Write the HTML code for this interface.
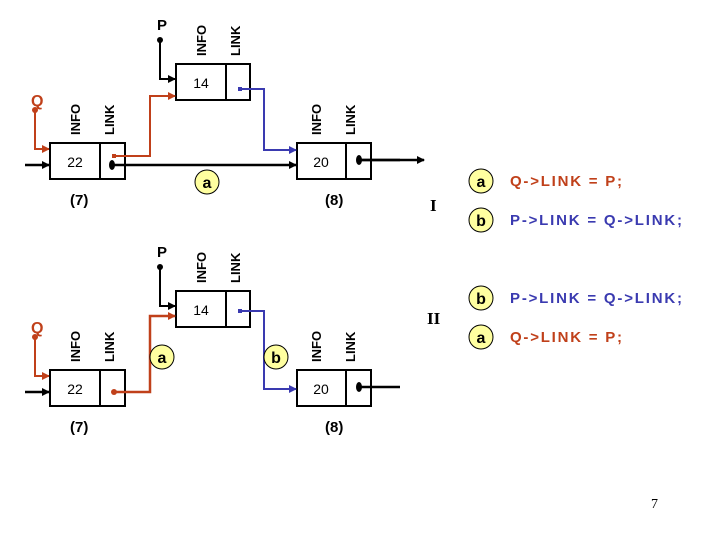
<!DOCTYPE html>
<html><head><style>body{margin:0;background:#fff}svg{display:block}</style></head><body>
<svg width="720" height="540" xmlns="http://www.w3.org/2000/svg" font-family="Liberation Sans, sans-serif">
<defs>
<marker id="ak" markerWidth="8" markerHeight="8" refX="7" refY="4" orient="auto" markerUnits="userSpaceOnUse"><path d="M0,0L8,4L0,8z" fill="#000"/></marker>
<marker id="ao" markerWidth="8" markerHeight="8" refX="7" refY="4" orient="auto" markerUnits="userSpaceOnUse"><path d="M0,0L8,4L0,8z" fill="#c0401a"/></marker>
<marker id="ab" markerWidth="8" markerHeight="8" refX="7" refY="4" orient="auto" markerUnits="userSpaceOnUse"><path d="M0,0L8,4L0,8z" fill="#3a3ab0"/></marker>
</defs>
<g id="d1">
<text x="157" y="30" font-size="15" font-weight="bold">P</text>
<circle cx="160" cy="40" r="3"/>
<path d="M160,40V79H175" stroke="#000" stroke-width="2" fill="none" marker-end="url(#ak)"/>
<rect x="176" y="64" width="74" height="36" fill="#fff" stroke="#000" stroke-width="2"/><line x1="226" y1="64" x2="226" y2="100" stroke="#000" stroke-width="2"/>
<text x="201" y="88" font-size="14" text-anchor="middle">14</text>
<text transform="translate(206,56) rotate(-90)" font-size="13" font-weight="bold">INFO</text>
<text transform="translate(240,56) rotate(-90)" font-size="13" font-weight="bold">LINK</text>
<text x="31" y="106" font-size="16" font-weight="bold" fill="#c0401a">Q</text>
<circle cx="35" cy="110" r="3" fill="#c0401a"/>
<path d="M35,110V149H49" stroke="#c0401a" stroke-width="2" fill="none" marker-end="url(#ao)"/>
<rect x="50" y="143" width="75" height="36" fill="#fff" stroke="#000" stroke-width="2"/><line x1="100" y1="143" x2="100" y2="179" stroke="#000" stroke-width="2"/>
<text x="75" y="167" font-size="14" text-anchor="middle">22</text>
<text transform="translate(80,135) rotate(-90)" font-size="13" font-weight="bold">INFO</text>
<text transform="translate(114,135) rotate(-90)" font-size="13" font-weight="bold">LINK</text>
<rect x="297" y="143" width="74" height="36" fill="#fff" stroke="#000" stroke-width="2"/><line x1="346" y1="143" x2="346" y2="179" stroke="#000" stroke-width="2"/>
<text x="321" y="167" font-size="14" text-anchor="middle">20</text>
<text transform="translate(321,135) rotate(-90)" font-size="13" font-weight="bold">INFO</text>
<text transform="translate(355,135) rotate(-90)" font-size="13" font-weight="bold">LINK</text>
<line x1="25" y1="165" x2="49" y2="165" stroke="#000" stroke-width="2.5" marker-end="url(#ak)"/>
<line x1="360" y1="160" x2="400" y2="160" stroke="#000" stroke-width="2.5"/>
<ellipse cx="359" cy="160" rx="3" ry="5"/>
<text x="70" y="205" font-size="15" font-weight="bold">(7)</text>
<text x="325" y="205" font-size="15" font-weight="bold">(8)</text>
</g>
<ellipse cx="112" cy="165" rx="3" ry="5"/>
<line x1="112" y1="165" x2="296" y2="165" stroke="#000" stroke-width="2.5" marker-end="url(#ak)"/>
<line x1="360" y1="160" x2="424" y2="160" stroke="#000" stroke-width="2.5" marker-end="url(#ak)"/>
<path d="M114,156H150V96H175" stroke="#c0401a" stroke-width="2" fill="none" marker-end="url(#ao)"/>
<rect x="112" y="154" width="4" height="4" fill="#c0401a"/>
<path d="M240,89H264V150H296" stroke="#3a3ab0" stroke-width="2" fill="none" marker-end="url(#ab)"/>
<rect x="238" y="87" width="4" height="4" fill="#3a3ab0"/>
<circle cx="207" cy="182" r="12" fill="#ffffa0" stroke="#000"/><text x="207" y="188" font-size="16" font-weight="bold" text-anchor="middle">a</text>
<use href="#d1" transform="translate(0,227)"/>
<circle cx="114" cy="392" r="3" fill="#c0401a"/>
<path d="M114,392H150V316H175" stroke="#c0401a" stroke-width="2.5" fill="none" marker-end="url(#ao)"/>
<path d="M240,311H264V389H296" stroke="#3a3ab0" stroke-width="2" fill="none" marker-end="url(#ab)"/>
<rect x="238" y="309" width="4" height="4" fill="#3a3ab0"/>
<circle cx="162" cy="357" r="12" fill="#ffffa0" stroke="#000"/><text x="162" y="363" font-size="16" font-weight="bold" text-anchor="middle">a</text>
<circle cx="276" cy="357" r="12" fill="#ffffa0" stroke="#000"/><text x="276" y="363" font-size="16" font-weight="bold" text-anchor="middle">b</text>
<g font-size="15" font-weight="bold">
<text x="430" y="211" font-family="Liberation Serif, serif" font-size="17">I</text>
<text x="427" y="324" font-family="Liberation Serif, serif" font-size="17">II</text>
<circle cx="481" cy="181" r="12" fill="#ffffa0" stroke="#000"/><text x="481" y="187" font-size="16" text-anchor="middle">a</text>
<circle cx="481" cy="220" r="12" fill="#ffffa0" stroke="#000"/><text x="481" y="226" font-size="16" text-anchor="middle">b</text>
<circle cx="481" cy="298" r="12" fill="#ffffa0" stroke="#000"/><text x="481" y="304" font-size="16" text-anchor="middle">b</text>
<circle cx="481" cy="337" r="12" fill="#ffffa0" stroke="#000"/><text x="481" y="343" font-size="16" text-anchor="middle">a</text>
<text x="510" y="186" fill="#c0401a" textLength="112" lengthAdjust="spacing">Q-&gt;LINK = P;</text>
<text x="510" y="225" fill="#3a3ab0" textLength="172" lengthAdjust="spacing">P-&gt;LINK = Q-&gt;LINK;</text>
<text x="510" y="303" fill="#3a3ab0" textLength="172" lengthAdjust="spacing">P-&gt;LINK = Q-&gt;LINK;</text>
<text x="510" y="342" fill="#c0401a" textLength="112" lengthAdjust="spacing">Q-&gt;LINK = P;</text>
</g>
<text x="651" y="508" font-size="14" font-family="Liberation Serif, serif">7</text>
</svg>
</body></html>
